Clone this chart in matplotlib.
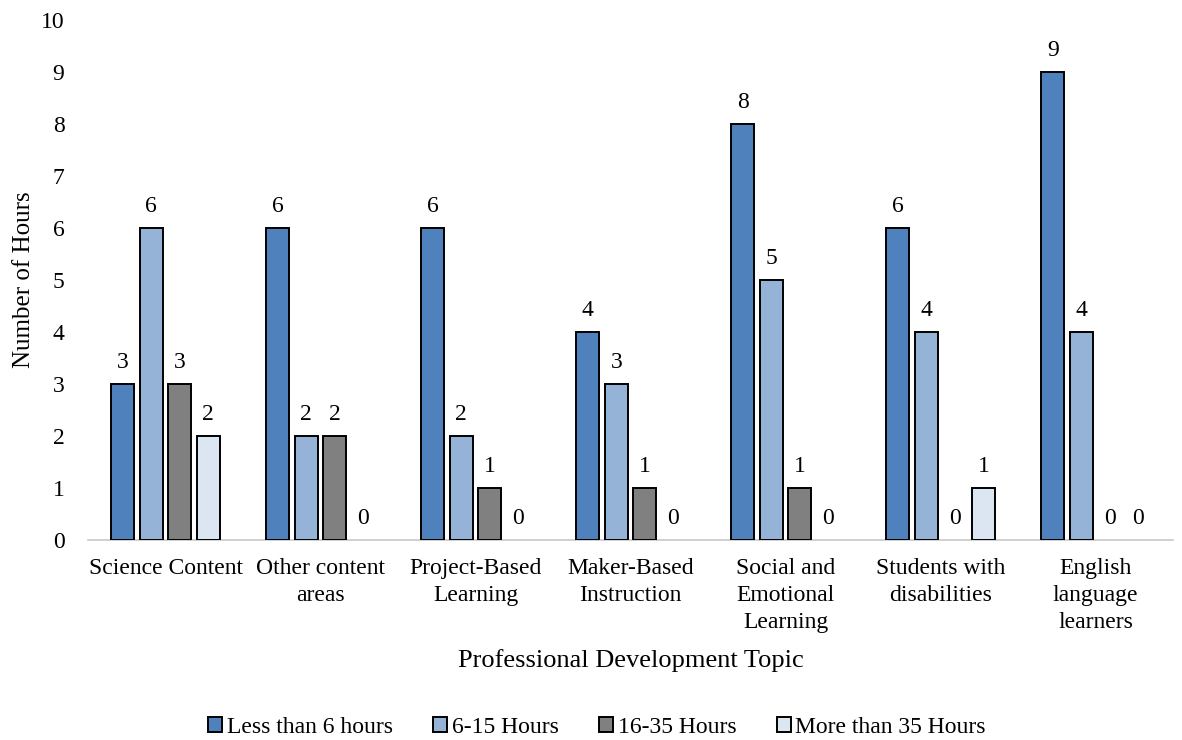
import numpy as np
import matplotlib.pyplot as plt

plt.rcParams['font.family'] = ['Liberation Serif', 'DejaVu Serif']

topics = ["Science Content", "Other content\nareas", "Project-Based\nLearning",
          "Maker-Based\nInstruction", "Social and\nEmotional\nLearning",
          "Students with\ndisabilities", "English\nlanguage\nlearners"]
series = ["Less than 6 hours", "6-15 Hours", "16-35 Hours", "More than 35 Hours"]
less_6 = [3, 6, 6, 4, 8, 6, 9]
h6_15 = [6, 2, 2, 3, 5, 4, 4]
h16_35 = [3, 2, 1, 1, 1, 0, 0]
more_35 = [2, 0, 0, 0, 0, 1, 0]
colors = ["#4F81BD", "#95B3D7", "#808080", "#DCE6F2"]

fig = plt.figure(figsize=(11.82, 7.4), dpi=100)
ax = fig.add_axes([0.0745, 0.27, 0.918, 0.703])

x = np.arange(len(topics))
step = 0.184
width = 0.148
for i, (vals, c, name) in enumerate(zip([less_6, h6_15, h16_35, more_35], colors, series)):
    pos = x + (i - 1.5) * step
    bars = ax.bar(pos, vals, width, color=c, edgecolor="black", linewidth=1.4,
                  label=name, zorder=3)
    for b, p, v in zip(bars, pos, vals):
        if v == 0:
            b.set_linewidth(0)
        ax.text(p, v + 0.22, str(v), ha="center", va="bottom", fontsize=17)

ax.set_xlim(-0.5, len(topics) - 0.5)
ax.set_ylim(0, 10)
ax.set_yticks(range(11))
ax.set_xticks(x)
ax.set_xticklabels(topics, fontsize=17, va="top", linespacing=1.38)
ax.tick_params(axis="both", length=0, labelsize=17)
ax.tick_params(axis="y", pad=17)
ax.tick_params(axis="x", pad=13)
for s in ["top", "right", "left"]:
    ax.spines[s].set_visible(False)
ax.spines["bottom"].set_color("#C8C8C8")
ax.spines["bottom"].set_linewidth(1.2)

ax.set_ylabel("Number of Hours", fontsize=18, labelpad=4)
ax.set_xlabel("Professional Development Topic", fontsize=19, labelpad=11)

fig.legend(loc="lower center", bbox_to_anchor=(0.505, -0.026), ncol=4, frameon=False,
           fontsize=17, handlelength=0.6, handleheight=0.6, handletextpad=0.2,
           columnspacing=1.7)

fig.savefig("out.png", dpi=100)
